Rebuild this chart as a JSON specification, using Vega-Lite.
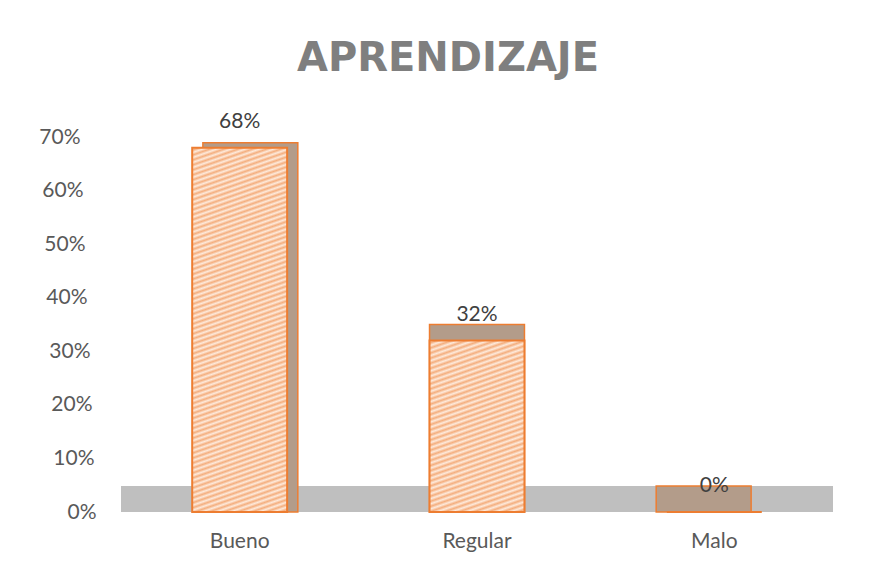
{
  "$schema": "https://vega.github.io/schema/vega-lite/v6.json",
  "width": 712,
  "height": 375,
  "autosize": {"type": "none"},
  "padding": {"left": 121, "top": 137, "right": 47, "bottom": 65},
  "background": "white",
  "config": {"view": {"stroke": null}, "font": "Lato"},
  "title": {"text": "APRENDIZAJE", "font": "DejaVu Sans", "fontSize": 40, "fontWeight": "bold", "color": "#7F7F7F", "anchor": "middle", "dx": -29, "offset": 0, "baseline": "alphabetic"},
  "data": {"values": [
    {"cat": "Bueno", "value": 0.68},
    {"cat": "Regular", "value": 0.32},
    {"cat": "Malo", "value": 0}
  ]},
  "encoding": {
    "x": {"field": "cat", "type": "nominal", "sort": null,
      "scale": {"paddingInner": 0.6, "paddingOuter": 0.3},
      "axis": {"title": null, "labelAngle": 0, "domain": false, "ticks": false, "labelPadding": 18, "labelFont": "Lato", "labelFontSize": 21, "labelColor": "#595959"}},
    "y": {"field": "value", "type": "quantitative",
      "scale": {"domain": [0, 0.7]},
      "axis": {"title": null, "format": ".0%", "values": [0, 0.1, 0.2, 0.3, 0.4, 0.5, 0.6, 0.7], "grid": false, "domain": false, "ticks": false, "labelFont": "Lato", "labelFontSize": 21, "labelColor": "#595959",
        "labelPadding": {"condition": [
          {"test": "datum.value > 0.65", "value": 41},
          {"test": "datum.value > 0.55", "value": 38},
          {"test": "datum.value > 0.45", "value": 36},
          {"test": "datum.value > 0.35", "value": 34},
          {"test": "datum.value > 0.25", "value": 31},
          {"test": "datum.value > 0.15", "value": 29},
          {"test": "datum.value > 0.05", "value": 27}
        ], "value": 25}}}
  },
  "layer": [
    {"mark": {"type": "rect", "color": "#BFBFBF"},
     "encoding": {"x": {"value": 0}, "x2": {"value": "width"}, "y": {"datum": 0}, "y2": {"datum": 0.0485}}},
    {"mark": {"type": "bar", "fill": "#B39C8A", "stroke": "#ED7D31", "strokeWidth": 1.5,
      "xOffset": {"expr": "(width/2 - scale('x', datum.cat) - bandwidth('x')/2)*0.045"},
      "yOffset": {"expr": "-(26 - 31*datum.value)"},
      "y2Offset": 0.01},
     "encoding": {"y2": {"datum": 0}}},
    {"transform": [{"filter": "datum.cat == 'Malo'"}],
     "mark": {"type": "bar", "fill": "#F8CFB0", "stroke": "#ED7D31", "strokeWidth": 2}},
    {"transform": [{"filter": "datum.cat == 'Bueno'"}],
     "mark": {"type": "bar", "stroke": "#ED7D31", "strokeWidth": 2,
      "fill": {"gradient": "linear", "x1": 1, "y1": 1, "x2": 0.9015, "y2": -0.082, "stops": [
        {"offset": 0, "color": "#FEEADB"}, {"offset": 0.00625, "color": "#F4AE7E"}, {"offset": 0.0125, "color": "#FEEADB"}, {"offset": 0.01875, "color": "#F4AE7E"},
        {"offset": 0.025, "color": "#FEEADB"}, {"offset": 0.03125, "color": "#F4AE7E"}, {"offset": 0.0375, "color": "#FEEADB"}, {"offset": 0.04375, "color": "#F4AE7E"},
        {"offset": 0.05, "color": "#FEEADB"}, {"offset": 0.05625, "color": "#F4AE7E"}, {"offset": 0.0625, "color": "#FEEADB"}, {"offset": 0.06875, "color": "#F4AE7E"},
        {"offset": 0.075, "color": "#FEEADB"}, {"offset": 0.08125, "color": "#F4AE7E"}, {"offset": 0.0875, "color": "#FEEADB"}, {"offset": 0.09375, "color": "#F4AE7E"},
        {"offset": 0.1, "color": "#FEEADB"}, {"offset": 0.10625, "color": "#F4AE7E"}, {"offset": 0.1125, "color": "#FEEADB"}, {"offset": 0.11875, "color": "#F4AE7E"},
        {"offset": 0.125, "color": "#FEEADB"}, {"offset": 0.13125, "color": "#F4AE7E"}, {"offset": 0.1375, "color": "#FEEADB"}, {"offset": 0.14375, "color": "#F4AE7E"},
        {"offset": 0.15, "color": "#FEEADB"}, {"offset": 0.15625, "color": "#F4AE7E"}, {"offset": 0.1625, "color": "#FEEADB"}, {"offset": 0.16875, "color": "#F4AE7E"},
        {"offset": 0.175, "color": "#FEEADB"}, {"offset": 0.18125, "color": "#F4AE7E"}, {"offset": 0.1875, "color": "#FEEADB"}, {"offset": 0.19375, "color": "#F4AE7E"},
        {"offset": 0.2, "color": "#FEEADB"}, {"offset": 0.20625, "color": "#F4AE7E"}, {"offset": 0.2125, "color": "#FEEADB"}, {"offset": 0.21875, "color": "#F4AE7E"},
        {"offset": 0.225, "color": "#FEEADB"}, {"offset": 0.23125, "color": "#F4AE7E"}, {"offset": 0.2375, "color": "#FEEADB"}, {"offset": 0.24375, "color": "#F4AE7E"},
        {"offset": 0.25, "color": "#FEEADB"}, {"offset": 0.25625, "color": "#F4AE7E"}, {"offset": 0.2625, "color": "#FEEADB"}, {"offset": 0.26875, "color": "#F4AE7E"},
        {"offset": 0.275, "color": "#FEEADB"}, {"offset": 0.28125, "color": "#F4AE7E"}, {"offset": 0.2875, "color": "#FEEADB"}, {"offset": 0.29375, "color": "#F4AE7E"},
        {"offset": 0.3, "color": "#FEEADB"}, {"offset": 0.30625, "color": "#F4AE7E"}, {"offset": 0.3125, "color": "#FEEADB"}, {"offset": 0.31875, "color": "#F4AE7E"},
        {"offset": 0.325, "color": "#FEEADB"}, {"offset": 0.33125, "color": "#F4AE7E"}, {"offset": 0.3375, "color": "#FEEADB"}, {"offset": 0.34375, "color": "#F4AE7E"},
        {"offset": 0.35, "color": "#FEEADB"}, {"offset": 0.35625, "color": "#F4AE7E"}, {"offset": 0.3625, "color": "#FEEADB"}, {"offset": 0.36875, "color": "#F4AE7E"},
        {"offset": 0.375, "color": "#FEEADB"}, {"offset": 0.38125, "color": "#F4AE7E"}, {"offset": 0.3875, "color": "#FEEADB"}, {"offset": 0.39375, "color": "#F4AE7E"},
        {"offset": 0.4, "color": "#FEEADB"}, {"offset": 0.40625, "color": "#F4AE7E"}, {"offset": 0.4125, "color": "#FEEADB"}, {"offset": 0.41875, "color": "#F4AE7E"},
        {"offset": 0.425, "color": "#FEEADB"}, {"offset": 0.43125, "color": "#F4AE7E"}, {"offset": 0.4375, "color": "#FEEADB"}, {"offset": 0.44375, "color": "#F4AE7E"},
        {"offset": 0.45, "color": "#FEEADB"}, {"offset": 0.45625, "color": "#F4AE7E"}, {"offset": 0.4625, "color": "#FEEADB"}, {"offset": 0.46875, "color": "#F4AE7E"},
        {"offset": 0.475, "color": "#FEEADB"}, {"offset": 0.48125, "color": "#F4AE7E"}, {"offset": 0.4875, "color": "#FEEADB"}, {"offset": 0.49375, "color": "#F4AE7E"},
        {"offset": 0.5, "color": "#FEEADB"}, {"offset": 0.50625, "color": "#F4AE7E"}, {"offset": 0.5125, "color": "#FEEADB"}, {"offset": 0.51875, "color": "#F4AE7E"},
        {"offset": 0.525, "color": "#FEEADB"}, {"offset": 0.53125, "color": "#F4AE7E"}, {"offset": 0.5375, "color": "#FEEADB"}, {"offset": 0.54375, "color": "#F4AE7E"},
        {"offset": 0.55, "color": "#FEEADB"}, {"offset": 0.55625, "color": "#F4AE7E"}, {"offset": 0.5625, "color": "#FEEADB"}, {"offset": 0.56875, "color": "#F4AE7E"},
        {"offset": 0.575, "color": "#FEEADB"}, {"offset": 0.58125, "color": "#F4AE7E"}, {"offset": 0.5875, "color": "#FEEADB"}, {"offset": 0.59375, "color": "#F4AE7E"},
        {"offset": 0.6, "color": "#FEEADB"}, {"offset": 0.60625, "color": "#F4AE7E"}, {"offset": 0.6125, "color": "#FEEADB"}, {"offset": 0.61875, "color": "#F4AE7E"},
        {"offset": 0.625, "color": "#FEEADB"}, {"offset": 0.63125, "color": "#F4AE7E"}, {"offset": 0.6375, "color": "#FEEADB"}, {"offset": 0.64375, "color": "#F4AE7E"},
        {"offset": 0.65, "color": "#FEEADB"}, {"offset": 0.65625, "color": "#F4AE7E"}, {"offset": 0.6625, "color": "#FEEADB"}, {"offset": 0.66875, "color": "#F4AE7E"},
        {"offset": 0.675, "color": "#FEEADB"}, {"offset": 0.68125, "color": "#F4AE7E"}, {"offset": 0.6875, "color": "#FEEADB"}, {"offset": 0.69375, "color": "#F4AE7E"},
        {"offset": 0.7, "color": "#FEEADB"}, {"offset": 0.70625, "color": "#F4AE7E"}, {"offset": 0.7125, "color": "#FEEADB"}, {"offset": 0.71875, "color": "#F4AE7E"},
        {"offset": 0.725, "color": "#FEEADB"}, {"offset": 0.73125, "color": "#F4AE7E"}, {"offset": 0.7375, "color": "#FEEADB"}, {"offset": 0.74375, "color": "#F4AE7E"},
        {"offset": 0.75, "color": "#FEEADB"}, {"offset": 0.75625, "color": "#F4AE7E"}, {"offset": 0.7625, "color": "#FEEADB"}, {"offset": 0.76875, "color": "#F4AE7E"},
        {"offset": 0.775, "color": "#FEEADB"}, {"offset": 0.78125, "color": "#F4AE7E"}, {"offset": 0.7875, "color": "#FEEADB"}, {"offset": 0.79375, "color": "#F4AE7E"},
        {"offset": 0.8, "color": "#FEEADB"}, {"offset": 0.80625, "color": "#F4AE7E"}, {"offset": 0.8125, "color": "#FEEADB"}, {"offset": 0.81875, "color": "#F4AE7E"},
        {"offset": 0.825, "color": "#FEEADB"}, {"offset": 0.83125, "color": "#F4AE7E"}, {"offset": 0.8375, "color": "#FEEADB"}, {"offset": 0.84375, "color": "#F4AE7E"},
        {"offset": 0.85, "color": "#FEEADB"}, {"offset": 0.85625, "color": "#F4AE7E"}, {"offset": 0.8625, "color": "#FEEADB"}, {"offset": 0.86875, "color": "#F4AE7E"},
        {"offset": 0.875, "color": "#FEEADB"}, {"offset": 0.88125, "color": "#F4AE7E"}, {"offset": 0.8875, "color": "#FEEADB"}, {"offset": 0.89375, "color": "#F4AE7E"},
        {"offset": 0.9, "color": "#FEEADB"}, {"offset": 0.90625, "color": "#F4AE7E"}, {"offset": 0.9125, "color": "#FEEADB"}, {"offset": 0.91875, "color": "#F4AE7E"},
        {"offset": 0.925, "color": "#FEEADB"}, {"offset": 0.93125, "color": "#F4AE7E"}, {"offset": 0.9375, "color": "#FEEADB"}, {"offset": 0.94375, "color": "#F4AE7E"},
        {"offset": 0.95, "color": "#FEEADB"}, {"offset": 0.95625, "color": "#F4AE7E"}, {"offset": 0.9625, "color": "#FEEADB"}, {"offset": 0.96875, "color": "#F4AE7E"},
        {"offset": 0.975, "color": "#FEEADB"}, {"offset": 0.98125, "color": "#F4AE7E"}, {"offset": 0.9875, "color": "#FEEADB"}, {"offset": 0.99375, "color": "#F4AE7E"},
        {"offset": 1, "color": "#FEEADB"}
      ]}}},
    {"transform": [{"filter": "datum.cat == 'Regular'"}],
     "mark": {"type": "bar", "stroke": "#ED7D31", "strokeWidth": 2,
      "fill": {"gradient": "linear", "x1": 1, "y1": 1, "x2": 0.778, "y2": -0.15, "stops": [
        {"offset": 0, "color": "#FEEADB"}, {"offset": 0.0125, "color": "#F4AE7E"}, {"offset": 0.025, "color": "#FEEADB"}, {"offset": 0.0375, "color": "#F4AE7E"},
        {"offset": 0.05, "color": "#FEEADB"}, {"offset": 0.0625, "color": "#F4AE7E"}, {"offset": 0.075, "color": "#FEEADB"}, {"offset": 0.0875, "color": "#F4AE7E"},
        {"offset": 0.1, "color": "#FEEADB"}, {"offset": 0.1125, "color": "#F4AE7E"}, {"offset": 0.125, "color": "#FEEADB"}, {"offset": 0.1375, "color": "#F4AE7E"},
        {"offset": 0.15, "color": "#FEEADB"}, {"offset": 0.1625, "color": "#F4AE7E"}, {"offset": 0.175, "color": "#FEEADB"}, {"offset": 0.1875, "color": "#F4AE7E"},
        {"offset": 0.2, "color": "#FEEADB"}, {"offset": 0.2125, "color": "#F4AE7E"}, {"offset": 0.225, "color": "#FEEADB"}, {"offset": 0.2375, "color": "#F4AE7E"},
        {"offset": 0.25, "color": "#FEEADB"}, {"offset": 0.2625, "color": "#F4AE7E"}, {"offset": 0.275, "color": "#FEEADB"}, {"offset": 0.2875, "color": "#F4AE7E"},
        {"offset": 0.3, "color": "#FEEADB"}, {"offset": 0.3125, "color": "#F4AE7E"}, {"offset": 0.325, "color": "#FEEADB"}, {"offset": 0.3375, "color": "#F4AE7E"},
        {"offset": 0.35, "color": "#FEEADB"}, {"offset": 0.3625, "color": "#F4AE7E"}, {"offset": 0.375, "color": "#FEEADB"}, {"offset": 0.3875, "color": "#F4AE7E"},
        {"offset": 0.4, "color": "#FEEADB"}, {"offset": 0.4125, "color": "#F4AE7E"}, {"offset": 0.425, "color": "#FEEADB"}, {"offset": 0.4375, "color": "#F4AE7E"},
        {"offset": 0.45, "color": "#FEEADB"}, {"offset": 0.4625, "color": "#F4AE7E"}, {"offset": 0.475, "color": "#FEEADB"}, {"offset": 0.4875, "color": "#F4AE7E"},
        {"offset": 0.5, "color": "#FEEADB"}, {"offset": 0.5125, "color": "#F4AE7E"}, {"offset": 0.525, "color": "#FEEADB"}, {"offset": 0.5375, "color": "#F4AE7E"},
        {"offset": 0.55, "color": "#FEEADB"}, {"offset": 0.5625, "color": "#F4AE7E"}, {"offset": 0.575, "color": "#FEEADB"}, {"offset": 0.5875, "color": "#F4AE7E"},
        {"offset": 0.6, "color": "#FEEADB"}, {"offset": 0.6125, "color": "#F4AE7E"}, {"offset": 0.625, "color": "#FEEADB"}, {"offset": 0.6375, "color": "#F4AE7E"},
        {"offset": 0.65, "color": "#FEEADB"}, {"offset": 0.6625, "color": "#F4AE7E"}, {"offset": 0.675, "color": "#FEEADB"}, {"offset": 0.6875, "color": "#F4AE7E"},
        {"offset": 0.7, "color": "#FEEADB"}, {"offset": 0.7125, "color": "#F4AE7E"}, {"offset": 0.725, "color": "#FEEADB"}, {"offset": 0.7375, "color": "#F4AE7E"},
        {"offset": 0.75, "color": "#FEEADB"}, {"offset": 0.7625, "color": "#F4AE7E"}, {"offset": 0.775, "color": "#FEEADB"}, {"offset": 0.7875, "color": "#F4AE7E"},
        {"offset": 0.8, "color": "#FEEADB"}, {"offset": 0.8125, "color": "#F4AE7E"}, {"offset": 0.825, "color": "#FEEADB"}, {"offset": 0.8375, "color": "#F4AE7E"},
        {"offset": 0.85, "color": "#FEEADB"}, {"offset": 0.8625, "color": "#F4AE7E"}, {"offset": 0.875, "color": "#FEEADB"}, {"offset": 0.8875, "color": "#F4AE7E"},
        {"offset": 0.9, "color": "#FEEADB"}, {"offset": 0.9125, "color": "#F4AE7E"}, {"offset": 0.925, "color": "#FEEADB"}, {"offset": 0.9375, "color": "#F4AE7E"},
        {"offset": 0.95, "color": "#FEEADB"}, {"offset": 0.9625, "color": "#F4AE7E"}, {"offset": 0.975, "color": "#FEEADB"}, {"offset": 0.9875, "color": "#F4AE7E"},
        {"offset": 1, "color": "#FEEADB"}
      ]}}},
    {"mark": {"type": "text", "dy": -26, "baseline": "middle", "fontSize": 21, "color": "#404040", "font": "Lato"},
     "encoding": {"text": {"field": "value", "format": ".0%"}}}
  ]
}
